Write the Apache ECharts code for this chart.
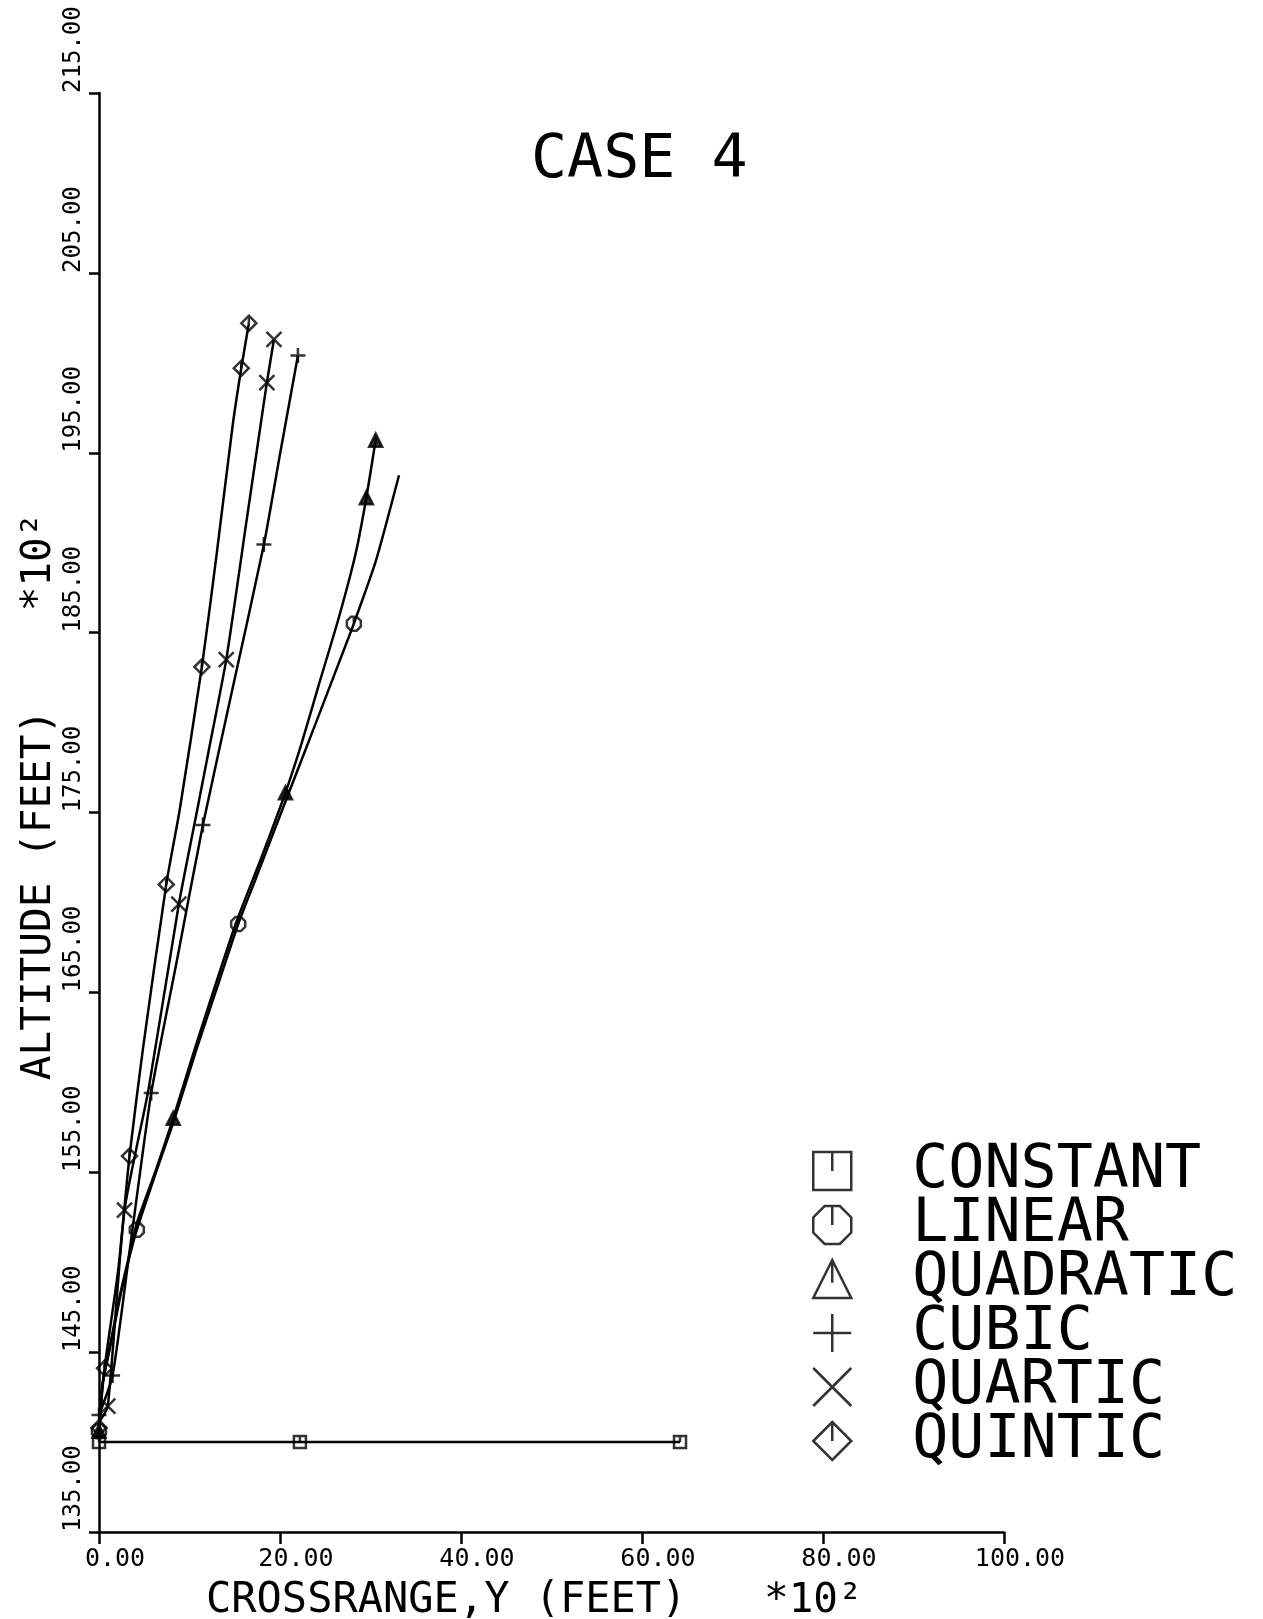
<!DOCTYPE html>
<html><head><meta charset="utf-8">
<script src="https://cdn.jsdelivr.net/npm/echarts/dist/echarts.min.js"></script>
<style>html,body{margin:0;padding:0;background:#fff}#c{width:1263px;height:1619px}</style>
</head><body><div id="c"></div>
<script>
// ---- data (crossrange in hundreds of feet, altitude in hundreds of feet) ----
const seriesNames = ['CONSTANT','LINEAR','QUADRATIC','CUBIC','QUARTIC','QUINTIC'];

const constantCurve = [[0,140],[22.2,140],[64.2,140]];
const constantMarks = [[0,140],[22.2,140],[64.2,140]];

const linearCurve = [[0,140.6],[0.42,143.3],[1.16,145.1],[2.27,147.9],[3.37,150.3],[4.18,151.8],[6.3,155.0],[8.3,157.9],[10.75,161.8],[13.2,165.5],[15.38,168.8],[17.07,171.0],[20.9,176.0],[23.9,179.9],[26.57,183.4],[28.16,185.5],[30.6,189.0],[33.15,193.75]];
const linearMarks = [[0,140.6],[4.18,151.8],[15.38,168.8],[28.16,185.5]];

const quadraticCurve = [[0,140.6],[0.4,143.3],[1.12,145.1],[2.2,147.9],[3.3,150.3],[4.2,152.2],[6.2,155.0],[8.2,158.0],[10.55,161.8],[15.1,168.8],[17.95,172.5],[20.6,176.1],[22.36,178.8],[24.23,182.0],[26.48,185.8],[28.36,189.4],[29.54,192.5],[30.57,195.7]];
const quadraticMarks = [[0,140.6],[8.2,158.0],[20.6,176.1],[29.54,192.5],[30.57,195.7]];

const cubicCurve = [[0,141.5],[1.5,143.7],[3.4,150.7],[5.77,159.4],[8.62,166.8],[11.48,174.3],[14.85,182.1],[18.22,189.9],[20.1,195.2],[21.98,200.4]];
const cubicMarks = [[0,141.5],[1.5,143.7],[5.77,159.4],[11.48,174.3],[18.22,189.9],[21.98,200.4]];

const quarticCurve = [[0,141.1],[0.97,142.0],[2.82,152.9],[5.47,159.6],[8.82,169.9],[10.64,174.6],[12.07,178.3],[14.06,183.5],[16.27,191.1],[17.61,195.7],[18.55,198.9],[19.33,201.3]];
const quarticMarks = [[0.97,142.0],[2.82,152.9],[8.82,169.9],[14.06,183.5],[18.55,198.9],[19.33,201.3]];

const quinticCurve = [[0,140.8],[0.61,144.1],[2.13,149.6],[3.37,155.9],[4.84,161.8],[7.43,171.0],[8.9,175.1],[11.37,183.1],[12.96,189.2],[14.79,196.6],[15.72,199.7],[16.56,202.2]];
const quinticMarks = [[0,140.8],[0.61,144.1],[3.37,155.9],[7.43,171.0],[11.37,183.1],[15.72,199.7],[16.56,202.2]];

const xTickValues = [0,20,40,60,80,100];
const yTickValues = [135,145,155,165,175,185,195,205,215];

const titleText = 'CASE 4';
const xAxisTitle = 'CROSSRANGE,Y (FEET)';
const yAxisTitle = 'ALTITUDE (FEET)';
const scaleText = '*10\u00B2';

// ---- styles ----
const curves = {CONSTANT:constantCurve, LINEAR:linearCurve, QUADRATIC:quadraticCurve, CUBIC:cubicCurve, QUARTIC:quarticCurve, QUINTIC:quinticCurve};
const marks = {CONSTANT:constantMarks, LINEAR:linearMarks, QUADRATIC:quadraticMarks, CUBIC:cubicMarks, QUARTIC:quarticMarks, QUINTIC:quinticMarks};
const symbols = {
  CONSTANT: 'path://M0,0L10,0L10,10L0,10ZM5,0L5,5',
  LINEAR: 'path://M3,0L7,0L10,3L10,7L7,10L3,10L0,7L0,3ZM5,0L5,5',
  QUADRATIC: 'path://M5,0L10,10L0,10ZM5,0L5,6',
  CUBIC: 'path://M0,5L10,5M5,0L5,10',
  QUARTIC: 'path://M0,0L10,10M10,0L0,10',
  QUINTIC: 'path://M5,0L10,5L5,10L0,5ZM5,0L5,5'
};
const markSize = {CONSTANT:12, LINEAR:14, QUADRATIC:13, CUBIC:15, QUARTIC:15, QUINTIC:15};
const markFill = {CONSTANT:'transparent', LINEAR:'transparent', QUADRATIC:'#000', CUBIC:'transparent', QUARTIC:'transparent', QUINTIC:'transparent'};
const MONO = "'DejaVu Sans Mono', monospace";

const series = [];
seriesNames.forEach(n => {
  series.push({
    type:'scatter', name:n, data:marks[n], symbol:symbols[n], symbolSize:markSize[n],
    itemStyle:{color:markFill[n], borderColor:'#000', borderWidth:2.5}, z:3
  });
});
seriesNames.forEach(n => {
  series.push({
    type:'line', name:n, data:curves[n], showSymbol:false, symbol:'none', smooth:0.2,
    lineStyle:{color:'#000', width:2.5}, z:2
  });
});

const chart = echarts.init(document.getElementById('c'), null, {renderer:'canvas'});
chart.setOption({
  animation:false,
  backgroundColor:'#fff',
  title:{text:titleText, left:526, top:126, textStyle:{fontFamily:MONO, fontSize:60, fontWeight:'normal', color:'#000'}},
  grid:{left:99, right:259, top:93, bottom:87, containLabel:false, outerBoundsMode:'none'},
  xAxis:{type:'value', min:0, max:100, interval:20,
    axisLine:{show:true, onZero:false, lineStyle:{color:'#000', width:2.5}},
    axisTick:{show:true, length:12, lineStyle:{color:'#000', width:2.5}},
    splitLine:{show:false},
    axisLabel:{formatter:v => xTickValues.includes(v) ? v.toFixed(2) : '', fontFamily:MONO, fontSize:25, color:'#000', margin:15, padding:[0,0,0,32]}
  },
  yAxis:{type:'value', min:135, max:215, interval:10,
    axisLine:{show:true, onZero:false, lineStyle:{color:'#000', width:2.5}},
    axisTick:{show:true, length:10, lineStyle:{color:'#000', width:2.5}},
    splitLine:{show:false},
    axisLabel:{formatter:v => yTickValues.includes(v) ? v.toFixed(2) : '', rotate:90, align:'left', verticalAlign:'bottom', fontFamily:MONO, fontSize:24, color:'#000', margin:13}
  },
  legend:{
    orient:'vertical', left:807, top:1136, itemWidth:38, itemHeight:38, itemGap:-6,
    selectedMode:false,
    data:seriesNames.map(n => ({name:n, icon:symbols[n]})),
    itemStyle:{color:'transparent', borderColor:'#000', borderWidth:2.5},
    formatter:'{t|{name}}',
    textStyle:{color:'#000', rich:{t:{fontFamily:MONO, fontSize:60, color:'#000', lineHeight:40, padding:[0,0,0,56]}}}
  },
  graphic:[
    {type:'text', x:39, y:895, rotation:Math.PI/2, style:{text:yAxisTitle, font:"41px 'DejaVu Sans Mono'", fill:'#000', align:'center', verticalAlign:'middle'}},
    {type:'text', x:39, y:562, rotation:Math.PI/2, style:{text:scaleText, font:"41px 'DejaVu Sans Mono'", fill:'#000', align:'center', verticalAlign:'middle'}},
    {type:'text', x:206, y:1601, style:{text:xAxisTitle, font:"42px 'DejaVu Sans Mono'", fill:'#000', align:'left', verticalAlign:'middle'}},
    {type:'text', x:764, y:1601, style:{text:scaleText, font:"41px 'DejaVu Sans Mono'", fill:'#000', align:'left', verticalAlign:'middle'}}
  ],
  series:series
});
</script>
</body></html>
